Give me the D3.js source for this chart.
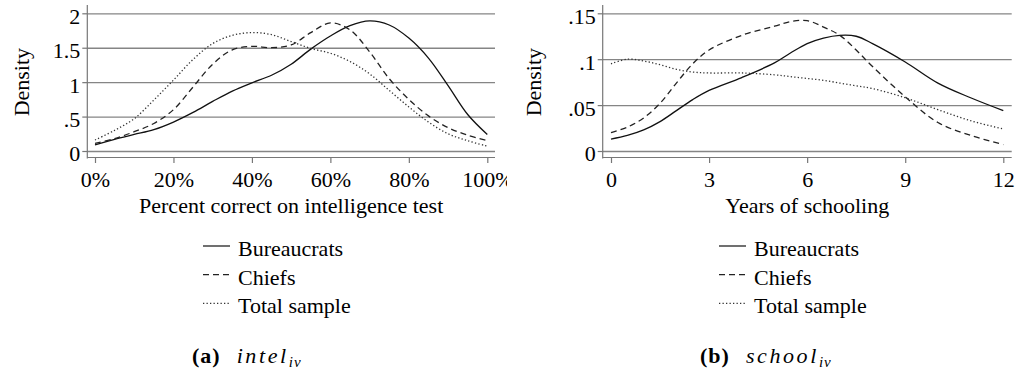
<!DOCTYPE html>
<html>
<head>
  <meta charset="utf-8">
  <script src="https://d3js.org/d3.v7.min.js"></script>
  <style>
    body { margin: 0; background: #fff; }
  </style>
</head>
<body>
  <script type="text/javascript">
    // ---------- data ----------
    // panel (a): percent correct on intelligence test
    var intelPct = [0, 5, 10, 15, 20, 25, 30, 35, 40, 45, 50, 55, 60, 65, 70, 75, 80, 85, 90, 95, 100];
    var intelBureaucrats = [0.09, 0.17, 0.24, 0.31, 0.42, 0.56, 0.72, 0.87, 0.99, 1.10, 1.26, 1.48, 1.67, 1.82, 1.89, 1.83, 1.64, 1.35, 0.95, 0.53, 0.24];
    var intelChiefs = [0.11, 0.18, 0.28, 0.40, 0.60, 0.93, 1.26, 1.47, 1.52, 1.50, 1.54, 1.72, 1.86, 1.76, 1.44, 1.05, 0.75, 0.51, 0.34, 0.23, 0.15];
    var intelTotal = [0.16, 0.30, 0.47, 0.74, 1.03, 1.33, 1.56, 1.68, 1.72, 1.69, 1.59, 1.49, 1.42, 1.30, 1.12, 0.88, 0.64, 0.42, 0.25, 0.15, 0.07];
    var intelTicksX = [0, 20, 40, 60, 80, 100];
    var intelTicksY = [0, 0.5, 1, 1.5, 2];

    // panel (b): years of schooling
    var schoolYears = [0, 0.5, 1, 1.5, 2, 2.5, 3, 4, 5, 5.5, 6, 6.5, 7, 7.5, 8, 9, 10, 11, 12];
    var schoolBureaucrats = [0.013, 0.017, 0.023, 0.032, 0.044, 0.056, 0.066, 0.080, 0.096, 0.107, 0.117, 0.123, 0.126, 0.125, 0.117, 0.097, 0.074, 0.058, 0.044];
    var schoolChiefs = [0.020, 0.026, 0.036, 0.052, 0.074, 0.095, 0.110, 0.126, 0.136, 0.141, 0.142, 0.135, 0.126, 0.110, 0.092, 0.059, 0.031, 0.017, 0.007];
    var schoolTotal = [0.095, 0.100, 0.098, 0.094, 0.089, 0.086, 0.085, 0.085, 0.083, 0.081, 0.079, 0.077, 0.074, 0.071, 0.068, 0.058, 0.045, 0.033, 0.024];
    var schoolTicksX = [0, 3, 6, 9, 12];
    var schoolTicksY = [0, 0.05, 0.1, 0.15];

    var seriesNames = ["Bureaucrats", "Chiefs", "Total sample"];
    var seriesDash = [null, "6,4", "1.3,2.2"];
    var seriesColor = ["#111", "#222", "#333"];

    var serif = "'Liberation Serif'";

    // strip the leading zero like Stata does (".5", ".05")
    function noLeadZero(d) {
      return d === 0 ? "0" : String(d).replace(/^0\./, ".");
    }

    var svg = d3.select("body").append("svg")
      .attr("width", 1021)
      .attr("height", 380);

    svg.append("defs").append("clipPath")
      .attr("id", "clipA")
      .append("rect")
      .attr("x", 0).attr("y", 0).attr("width", 507).attr("height", 380);

    var panels = [
      {
        clip: "url(#clipA)",
        xs: intelPct,
        ys: [intelBureaucrats, intelChiefs, intelTotal],
        x: d3.scaleLinear().domain([0, 100]).range([95, 487.3]),
        y: d3.scaleLinear().domain([0, 2]).range([151, 13.3]),
        ticksX: intelTicksX,
        ticksY: intelTicksY,
        fmtX: function(d) { return d + "%"; },
        axisX: 87.3,
        right: 495,
        titleX: "Percent correct on intelligence test",
        densityX: 28.5,
        legendX: 203,
        capX: 192,
        capLetter: "(a)",
        capWord: "intel"
      },
      {
        clip: null,
        xs: schoolYears,
        ys: [schoolBureaucrats, schoolChiefs, schoolTotal],
        x: d3.scaleLinear().domain([0, 12]).range([611, 1003.3]),
        y: d3.scaleLinear().domain([0, 0.15]).range([151, 13.3]),
        ticksX: schoolTicksX,
        ticksY: schoolTicksY,
        fmtX: function(d) { return d; },
        axisX: 602.7,
        right: 1011.7,
        titleX: "Years of schooling",
        densityX: 540.5,
        legendX: 719,
        capX: 700,
        capLetter: "(b)",
        capWord: "school"
      }
    ];

    panels.forEach(function(p) {
      var g = svg.append("g");
      if (p.clip) g.attr("clip-path", p.clip);

      // Gridlines
      g.append("g")
        .attr("transform", "translate(" + p.axisX + ",0)")
        .call(d3.axisLeft(p.y).tickValues(p.ticksY).tickSize(-(p.right - p.axisX)).tickFormat(""))
        .call(function(s) { s.select(".domain").remove(); })
        .selectAll("line")
        .attr("stroke", "#858585")
        .attr("stroke-width", 1.3);

      // Y axis
      var ya = g.append("g")
        .attr("transform", "translate(" + p.axisX + ",0)")
        .call(d3.axisLeft(p.y).tickValues(p.ticksY).tickSize(5).tickPadding(2).tickFormat(noLeadZero));
      ya.attr("font-family", null).attr("font-size", null);
      ya.select(".domain").remove();
      ya.selectAll("line").attr("stroke", "#777").attr("stroke-width", 1.2);
      ya.selectAll("text")
        .attr("dy", "0.45em")
        .attr("fill", "#000")
        .style("font-family", serif)
        .style("font-size", "22px");
      ya.append("line")
        .attr("x1", 0).attr("x2", 0)
        .attr("y1", 5).attr("y2", 158.5)
        .attr("stroke", "#777").attr("stroke-width", 1.2);

      // X axis
      var xa = g.append("g")
        .attr("transform", "translate(0,158)")
        .call(d3.axisBottom(p.x).tickValues(p.ticksX).tickSize(5).tickPadding(8).tickFormat(p.fmtX));
      xa.attr("font-family", null).attr("font-size", null);
      xa.select(".domain").remove();
      xa.selectAll("line").attr("stroke", "#777").attr("stroke-width", 1.2);
      xa.selectAll("text")
        .attr("fill", "#000")
        .style("font-family", serif)
        .style("font-size", "22px");
      xa.append("line")
        .attr("x1", p.axisX).attr("x2", p.right)
        .attr("y1", -0.5).attr("y2", -0.5)
        .attr("stroke", "#777").attr("stroke-width", 1.2);

      // Density curves
      var line = d3.line()
        .x(function(d, i) { return p.x(p.xs[i]); })
        .y(function(d) { return p.y(d); })
        .curve(d3.curveCatmullRom.alpha(0.5));

      p.ys.forEach(function(vals, k) {
        g.append("path")
          .datum(vals)
          .attr("d", line)
          .attr("fill", "none")
          .attr("stroke", seriesColor[k])
          .attr("stroke-width", 1.3)
          .attr("stroke-dasharray", seriesDash[k]);
      });

      // Axis titles
      svg.append("text")
        .attr("transform", "translate(" + p.densityX + "," + d3.mean(p.y.range()) + ") rotate(-90)")
        .attr("text-anchor", "middle")
        .style("font-family", serif)
        .style("font-size", "22px")
        .text("Density");

      svg.append("text")
        .attr("x", (p.axisX + p.right) / 2)
        .attr("y", 213)
        .attr("text-anchor", "middle")
        .style("font-family", serif)
        .style("font-size", "22px")
        .text(p.titleX);

      // Legend
      seriesNames.forEach(function(name, k) {
        var base = 256 + k * 28.7;
        svg.append("line")
          .attr("x1", p.legendX).attr("x2", p.legendX + 27)
          .attr("y1", base - 10).attr("y2", base - 10)
          .attr("stroke", seriesColor[k])
          .attr("stroke-width", 1.2)
          .attr("stroke-dasharray", seriesDash[k]);
        svg.append("text")
          .attr("x", p.legendX + 35)
          .attr("y", base)
          .style("font-family", serif)
          .style("font-size", "22px")
          .text(name);
      });

      // Caption
      var cap = svg.append("text")
        .attr("x", p.capX)
        .attr("y", 363)
        .style("font-family", serif)
        .style("font-size", "22px");
      cap.append("tspan")
        .style("font-weight", "bold")
        .style("letter-spacing", "1px")
        .text(p.capLetter);
      cap.append("tspan")
        .attr("dx", 16)
        .style("font-style", "italic")
        .style("letter-spacing", "2.6px")
        .text(p.capWord);
      cap.append("tspan")
        .attr("dy", 4)
        .style("font-style", "italic")
        .style("font-size", "15px")
        .style("letter-spacing", "1px")
        .text("iv");
    });
  </script>
</body>
</html>
